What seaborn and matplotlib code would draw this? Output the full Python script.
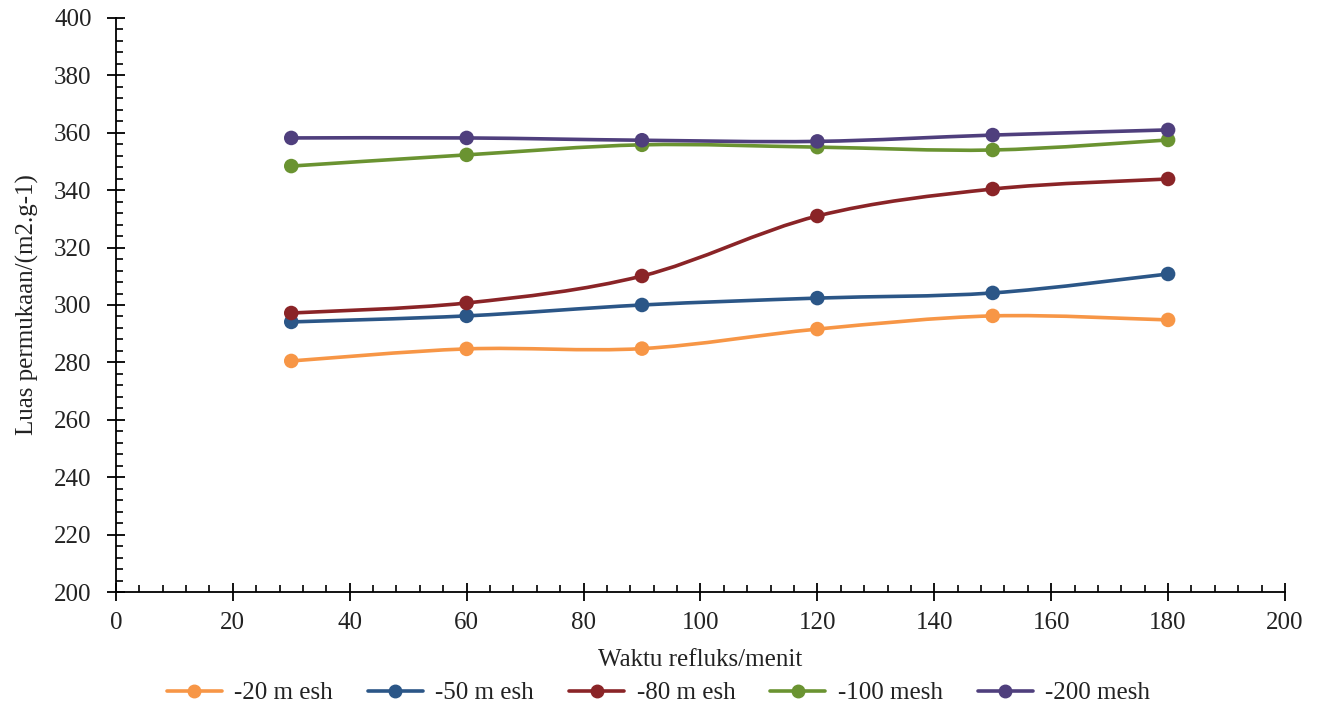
import numpy as np
import pandas as pd
import matplotlib
matplotlib.use("Agg")
import matplotlib.pyplot as plt
from matplotlib.path import Path
from matplotlib.patches import PathPatch
from matplotlib.lines import Line2D
from matplotlib.ticker import MultipleLocator
import seaborn as sns

# ---- data ----
time_min = [30, 60, 90, 120, 150, 180]
series_names = ["-20 m esh", "-50 m esh", "-80 m esh", "-100 mesh", "-200 mesh"]
mesh20 = [280.5, 284.7, 284.8, 291.6, 296.2, 294.8]
mesh50 = [294.1, 296.2, 300.0, 302.4, 304.2, 310.8]
mesh80 = [297.2, 300.7, 310.1, 331.0, 340.4, 343.9]
mesh100 = [348.4, 352.3, 355.8, 355.0, 354.0, 357.5]
mesh200 = [358.2, 358.2, 357.4, 357.0, 359.2, 361.0]
colors = ["#F79646", "#2B5687", "#8A2427", "#6A9331", "#4F3F7D"]

x_label = "Waktu refluks/menit"
y_label = "Luas permukaan/(m2.g-1)"

values = [mesh20, mesh50, mesh80, mesh100, mesh200]
df = pd.DataFrame({
    "x": np.tile(time_min, len(series_names)),
    "y": np.concatenate(values),
    "series": np.repeat(series_names, len(time_min)),
})

sns.set_theme(style="ticks")
plt.rcParams["font.family"] = ["Liberation Serif", "DejaVu Serif"]
plt.rcParams["font.size"] = 18

fig = plt.figure(figsize=(13.17, 7.13), dpi=100)
ax = fig.add_axes([0.088, 0.1697, 0.8877, 0.8051])


def smooth_path(xs, ys):
    # Excel-style smoothed line: Catmull-Rom converted to cubic Bezier
    xs = np.asarray(xs, float)
    ys = np.asarray(ys, float)
    pts = np.column_stack([xs, ys])
    n = len(pts)
    verts = [pts[0]]
    codes = [Path.MOVETO]
    for i in range(n - 1):
        p0 = pts[i - 1] if i > 0 else pts[i]
        p1 = pts[i]
        p2 = pts[i + 1]
        p3 = pts[i + 2] if i + 2 < n else pts[i + 1]
        c1 = p1 + (p2 - p0) / 6.0
        c2 = p2 - (p3 - p1) / 6.0
        verts += [c1, c2, p2]
        codes += [Path.CURVE4] * 3
    return Path(verts, codes)


for name, col in zip(series_names, colors):
    sub = df[df["series"] == name]
    patch = PathPatch(smooth_path(sub["x"], sub["y"]), facecolor="none",
                      edgecolor=col, lw=2.6, zorder=2, capstyle="round")
    ax.add_patch(patch)

sns.scatterplot(data=df, x="x", y="y", hue="series", palette=colors,
                hue_order=series_names, s=110, edgecolor="none",
                legend=False, ax=ax, zorder=3)

ax.set_xlim(0, 200)
ax.set_ylim(200, 400)
ax.xaxis.set_major_locator(MultipleLocator(20))
ax.xaxis.set_minor_locator(MultipleLocator(4))
ax.yaxis.set_major_locator(MultipleLocator(20))
ax.yaxis.set_minor_locator(MultipleLocator(4))

for side in ["top", "right"]:
    ax.spines[side].set_visible(False)
for side in ["left", "bottom"]:
    ax.spines[side].set_color("black")
    ax.spines[side].set_linewidth(1.3)

ax.tick_params(which="both", bottom=True, left=True, top=False, right=False)
ax.tick_params(which="major", direction="inout", length=13, width=1.3,
               colors="black", labelsize=18, labelcolor="#222222")
ax.tick_params(which="minor", direction="in", length=5, width=1.2,
               colors="black")
ax.tick_params(axis="x", which="major", pad=8)
ax.tick_params(axis="y", which="major", pad=11)

ax.set_xlabel(x_label, fontsize=18, color="#222222", labelpad=11)
ax.set_ylabel(y_label, fontsize=18, color="#222222", labelpad=11)

handles = [Line2D([0], [0], color=c, lw=2.6, marker="o", markersize=9)
           for c in colors]
fig.legend(handles, series_names, loc="center", bbox_to_anchor=(0.5, 0.028),
           ncol=5, frameon=False, fontsize=18, handlelength=2.2,
           handletextpad=0.5, columnspacing=1.4, labelcolor="#222222")

fig.savefig("out.png", dpi=100, facecolor="white")
